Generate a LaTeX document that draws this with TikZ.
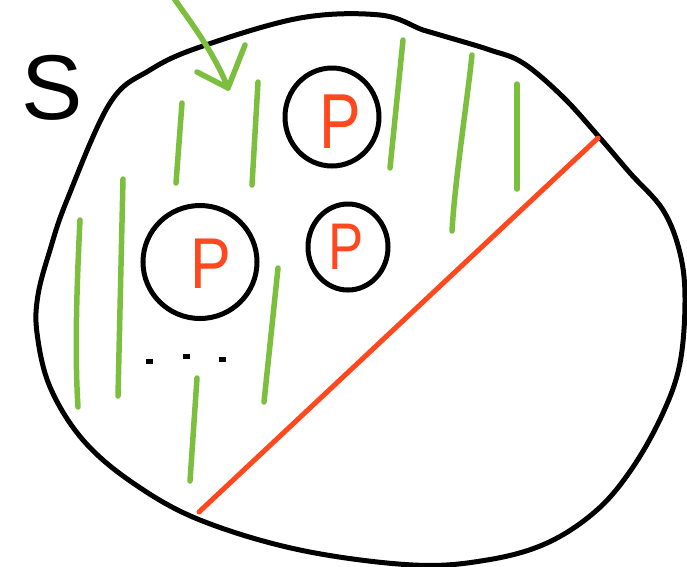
\documentclass[tikz,border=0pt]{standalone}
\usepackage{fontspec}
\setmainfont{Liberation Sans}
\usetikzlibrary{shapes.geometric}
\definecolor{sketchgreen}{RGB}{124,190,62}
\definecolor{sketchred}{RGB}{255,72,30}
\tikzset{
  blackline/.style={draw=black, line width=5pt, line cap=round, line join=round},
  greenline/.style={draw=sketchgreen, line width=5.5pt, line cap=round, line join=round},
  redline/.style={draw=sketchred, line width=5pt, line cap=round},
  ring/.style={ellipse, draw=black, line width=5pt, inner sep=0pt},
  pletter/.style={text=sketchred, inner sep=0pt, font=\fontsize{#1}{#1}\selectfont},
  sletter/.style={text=black, inner sep=0pt, font=\fontsize{92}{92}\selectfont},
  dotmark/.style={draw=black, line width=5pt}
}
\begin{document}
\begin{tikzpicture}[x=1pt,y=-1pt]
\useasboundingbox (0,0) rectangle (687,566);
\fill[white] (0,0) rectangle (687,566);

% outer blob
\draw[blackline] plot[smooth cycle, tension=0.6] coordinates {
 (300,18) (380,15) (423,30) (447,37) (490,50) (523,63) (563,97) (600,138)
 (630,173) (663,210) (680,253) (685,300) (680,363) (663,413) (633,467)
 (597,510) (547,543) (487,560) (413,565) (300,550) (200,520)
 (133,483) (83,440) (50,387) (37,333) (38,295) (50,250) (67,200) (110,103)
 (150,70) (200,47)};

% S label
\node[sletter] (S) at (52,88) {S};

% green hatch lines
\coordinate (g1a) at (182,103); \coordinate (g1b) at (176,183);
\coordinate (g2a) at (258,82);  \coordinate (g2b) at (252,185);
\coordinate (g3a) at (403,40);  \coordinate (g3b) at (390,168);
\coordinate (g4a) at (472,55);  \coordinate (g4b) at (452,231);
\coordinate (g5a) at (517,84);  \coordinate (g5b) at (517,189);
\coordinate (g6a) at (123,179); \coordinate (g6b) at (118,396);
\coordinate (g7a) at (80,220);  \coordinate (g7b) at (78,407);
\coordinate (g8a) at (278,268); \coordinate (g8b) at (264,402);
\coordinate (g9a) at (197,378); \coordinate (g9b) at (190,481);
\draw[greenline] (g1a) -- (g1b);
\draw[greenline] (g2a) -- (g2b);
\draw[greenline] (g3a) -- (g3b);
\draw[greenline] (g4a) .. controls (466,110) and (455,180) .. (g4b);
\draw[greenline] (g5a) -- (g5b);
\draw[greenline] (g6a) -- (g6b);
\draw[greenline] (g7a) .. controls (76,300) and (75,360) .. (g7b);
\draw[greenline] (g8a) -- (g8b);
\draw[greenline] (g9a) -- (g9b);

% green arrow
\coordinate (astart) at (173,-3);
\coordinate (atip) at (228,88);
\coordinate (aleft) at (197,72);
\coordinate (aright) at (245,45);
\draw[greenline] (astart) .. controls (195,28) and (215,55) .. (atip);
\draw[greenline] (aleft) -- (atip) -- (aright);

% circles
\node[ring, minimum width=94pt, minimum height=98pt] (c1) at (332,117) {};
\node[ring, minimum width=114pt, minimum height=113pt] (c2) at (200,262) {};
\node[ring, minimum width=80pt, minimum height=86pt] (c3) at (348,247) {};

% P letters
\node[pletter=78, xscale=0.8] (p1) at (340,122) {P};
\node[pletter=72, xscale=0.85] (p2) at (211,264) {P};
\node[pletter=66, xscale=0.8] (p3) at (346,247) {P};

% dots
\coordinate (d1a) at (146,361); \coordinate (d1b) at (153,361);
\coordinate (d2a) at (183,356); \coordinate (d2b) at (190,356);
\coordinate (d3a) at (219,359); \coordinate (d3b) at (226,359);
\draw[dotmark] (d1a) -- (d1b);
\draw[dotmark] (d2a) -- (d2b);
\draw[dotmark] (d3a) -- (d3b);

% red diagonal
\coordinate (ra) at (199,512);
\coordinate (rb) at (598,138);
\draw[redline] (ra) -- (rb);
\end{tikzpicture}
\end{document}
